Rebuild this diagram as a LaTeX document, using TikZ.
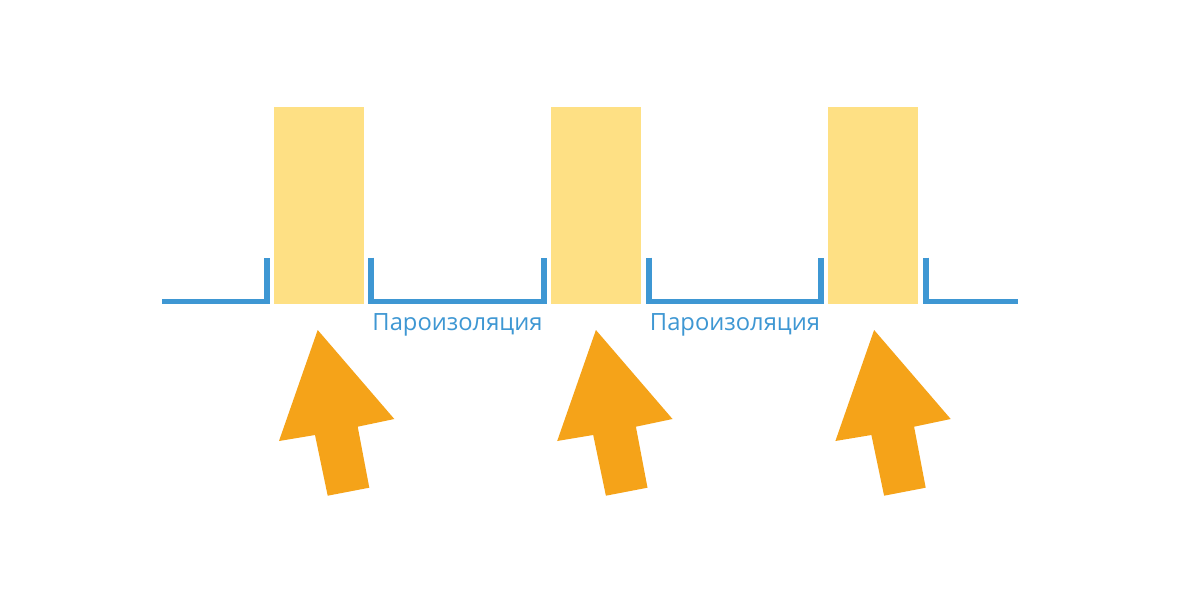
\documentclass[tikz,border=0pt]{standalone}
\usepackage{fontspec}
\setmainfont{Open Sans}
\definecolor{woodY}{RGB}{254,224,132}
\definecolor{vapB}{RGB}{62,151,211}
\definecolor{arrO}{RGB}{245,163,25}
\begin{document}
\begin{tikzpicture}[x=0.75pt,y=-0.75pt,
  beam/.style={fill=woodY,draw=none},
  film/.style={draw=vapB,line width=4.2pt,line cap=butt,line join=miter},
  flow/.style={fill=arrO,draw=none},
  lbl/.style={text=vapB,font=\fontsize{17.8}{19}\selectfont,anchor=base,inner sep=0pt}]
\useasboundingbox[fill=white] (0,0) rectangle (1200,600);
% beams
\foreach \i in {0,1,2}{
  \fill[beam,xshift=\i*277*0.75pt] (274,107) rectangle (364.3,304.3);
}
% vapor barrier
\draw[film] (162,301.3) -- (266.8,301.3) -- (266.8,257.7);
\draw[film] (370.8,257.7) -- (370.8,301.3) -- (543.7,301.3) -- (543.7,257.7);
\draw[film] (649,257.7) -- (649,301.3) -- (821,301.3) -- (821,257.7);
\draw[film] (926,257.7) -- (926,301.3) -- (1018.3,301.3);
% labels
\node[lbl] (l1) at (457.5,330.5) {Пароизоляция};
\node[lbl] (l2) at (735,330.5) {Пароизоляция};
% arrows
\foreach \i in {0,1,2}{
  \fill[flow,xshift=\i*278.2*0.75pt] (317.7,330) -- (394.3,419) -- (357.7,426.7) -- (369.3,487.7)
     -- (327.7,495.7) -- (315,435) -- (279,441) -- cycle;
}
\end{tikzpicture}
\end{document}
